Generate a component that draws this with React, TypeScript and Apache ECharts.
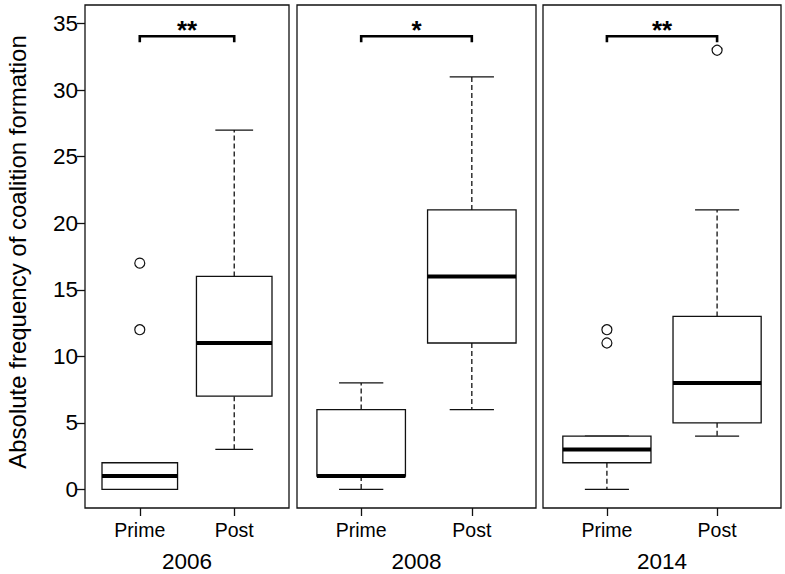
import React, { useEffect, useRef } from 'react';
import * as echarts from 'echarts';

const years = ['2006', '2008', '2014'];
const groups = ['Prime', 'Post'];
// [x, lowerWhisker, Q1, median, Q3, upperWhisker]
const stats2006 = [[1, 0, 0, 1, 2, 2], [2, 3, 7, 11, 16, 27]];
const stats2008 = [[1, 0, 1, 1, 6, 8], [2, 6, 11, 16, 21, 31]];
const stats2014 = [[1, 0, 2, 3, 4, 4], [2, 4, 5, 8, 13, 21]];
const outliers2006 = [[1, 12], [1, 17]];
const outliers2008: number[][] = [];
const outliers2014 = [[1, 11], [1, 12], [2, 33]];
const sigMarks = ['**', '*', '**'];
// [x1, x2, bracketLevel]
const brackets = [[1, 2, 34.05], [1, 2, 34.05], [1, 2, 34.05]];
const yTicks = [0, 5, 10, 15, 20, 25, 30, 35];
const xTicks = [1, 2];
const yTitle = 'Absolute frequency of coalition formation';

const FONT = 'Liberation Sans, Arial, Helvetica, sans-serif';

export default function App() {
  const ref = useRef<HTMLDivElement>(null);
  useEffect(() => {
    if (!ref.current) return;
    const chart = echarts.init(ref.current, null, { renderer: 'svg' });
    const stats = [stats2006, stats2008, stats2014];
    const outs = [outliers2006, outliers2008, outliers2014];
    const grids = [
      { left: 85, top: 5, width: 204, height: 503 },
      { left: 297, top: 5, width: 239, height: 503 },
      { left: 543, top: 5, width: 238, height: 503 },
    ].map((g) => ({
      ...g,
      show: true,
      containLabel: false,
      outerBoundsMode: 'none',
      borderColor: '#111',
      borderWidth: 1.3,
      backgroundColor: 'transparent',
    }));

    const xAxes = years.map((yr, i) => ({
      type: 'value',
      gridIndex: i,
      position: 'bottom',
      min: 0.42,
      max: 2.58,
      splitLine: { show: false },
      axisLine: { show: false, onZero: false },
      axisTick: { show: true, customValues: xTicks, length: 8, inside: false, lineStyle: { color: '#111', width: 1.3 } },
      axisLabel: {
        customValues: xTicks,
        formatter: (v: number) => groups[Math.round(v) - 1] ?? '',
        fontSize: 19.5,
        fontFamily: FONT,
        color: '#000',
        margin: 12,
      },
      name: yr,
      nameLocation: 'middle',
      nameGap: 42,
      nameTextStyle: { fontSize: 22.5, lineHeight: 22, fontFamily: FONT, color: '#000' },
    }));

    const yAxes = years.map((_, i) => ({
      type: 'value',
      gridIndex: i,
      position: 'left',
      min: -1.4,
      max: 36.4,
      show: i === 0,
      splitLine: { show: false },
      axisLine: { show: false, onZero: false },
      axisTick: { show: true, customValues: yTicks, length: 8, lineStyle: { color: '#111', width: 1.3 } },
      axisLabel: { customValues: yTicks, fontSize: 22.5, fontFamily: FONT, color: '#000', margin: 7 },
    }));

    const series: any[] = [];
    years.forEach((_, i) => {
      series.push({
        type: 'custom',
        xAxisIndex: i,
        yAxisIndex: i,
        encode: { x: 0, y: [1, 2, 3, 4, 5] },
        data: stats[i],
        renderItem: (params: any, api: any) => {
          const x = api.value(0);
          const lw = api.value(1), q1 = api.value(2), med = api.value(3), q3 = api.value(4), uw = api.value(5);
          const half = api.size([0.4, 0])[0];
          const capHalf = api.size([0.2, 0])[0];
          const cx = api.coord([x, 0])[0];
          const y = (v: number) => api.coord([x, v])[1];
          const stroke = { stroke: '#111', lineWidth: 1.3 };
          const dashed = { stroke: '#111', lineWidth: 1.3, lineDash: [5, 3] };
          return {
            type: 'group',
            children: [
              { type: 'line', shape: { x1: cx, y1: y(q1), x2: cx, y2: y(lw) }, style: dashed },
              { type: 'line', shape: { x1: cx, y1: y(q3), x2: cx, y2: y(uw) }, style: dashed },
              { type: 'line', shape: { x1: cx - capHalf, y1: y(lw), x2: cx + capHalf, y2: y(lw) }, style: stroke },
              { type: 'line', shape: { x1: cx - capHalf, y1: y(uw), x2: cx + capHalf, y2: y(uw) }, style: stroke },
              {
                type: 'rect',
                shape: { x: cx - half, y: y(q3), width: 2 * half, height: y(q1) - y(q3) },
                style: { fill: '#fff', stroke: '#111', lineWidth: 1.3 },
              },
              { type: 'line', shape: { x1: cx - half, y1: y(med), x2: cx + half, y2: y(med) }, style: { stroke: '#000', lineWidth: 4 } },
            ],
          };
        },
      });
      series.push({
        type: 'scatter',
        xAxisIndex: i,
        yAxisIndex: i,
        data: outs[i],
        symbol: 'circle',
        symbolSize: 10,
        itemStyle: { color: '#fff', borderColor: '#111', borderWidth: 1.2, opacity: 1 },
      });
      series.push({
        type: 'custom',
        xAxisIndex: i,
        yAxisIndex: i,
        encode: { x: [0, 1], y: 2 },
        data: [brackets[i]],
        renderItem: (params: any, api: any) => {
          const p1 = api.coord([api.value(0), api.value(2)]);
          const p2 = api.coord([api.value(1), api.value(2)]);
          return {
            type: 'group',
            children: [
              {
                type: 'polyline',
                shape: { points: [[p1[0], p1[1] + 6], [p1[0], p1[1]], [p2[0], p2[1]], [p2[0], p2[1] + 6]] },
                style: { stroke: '#000', lineWidth: 2.6, fill: 'none' },
              },
              {
                type: 'text',
                x: (p1[0] + p2[0]) / 2,
                y: p1[1] - 6,
                style: {
                  text: sigMarks[i],
                  fontSize: 26,
                  fontWeight: 'bold',
                  fontFamily: FONT,
                  fill: '#000',
                  align: 'center',
                  verticalAlign: 'middle',
                },
              },
            ],
          };
        },
      });
    });

    chart.setOption({
      animation: false,
      backgroundColor: '#fff',
      grid: grids,
      xAxis: xAxes,
      yAxis: yAxes,
      series,
      graphic: [
        {
          type: 'text',
          x: 17,
          y: 252,
          rotation: Math.PI / 2,
          style: {
            text: yTitle,
            fontSize: 24,
            fontFamily: FONT,
            fill: '#000',
            align: 'center',
            verticalAlign: 'middle',
          },
        },
      ],
    });
    return () => chart.dispose();
  }, []);
  return <div ref={ref} style={{ position: 'fixed', left: 0, top: 0, width: 785, height: 574 }} />;
}
